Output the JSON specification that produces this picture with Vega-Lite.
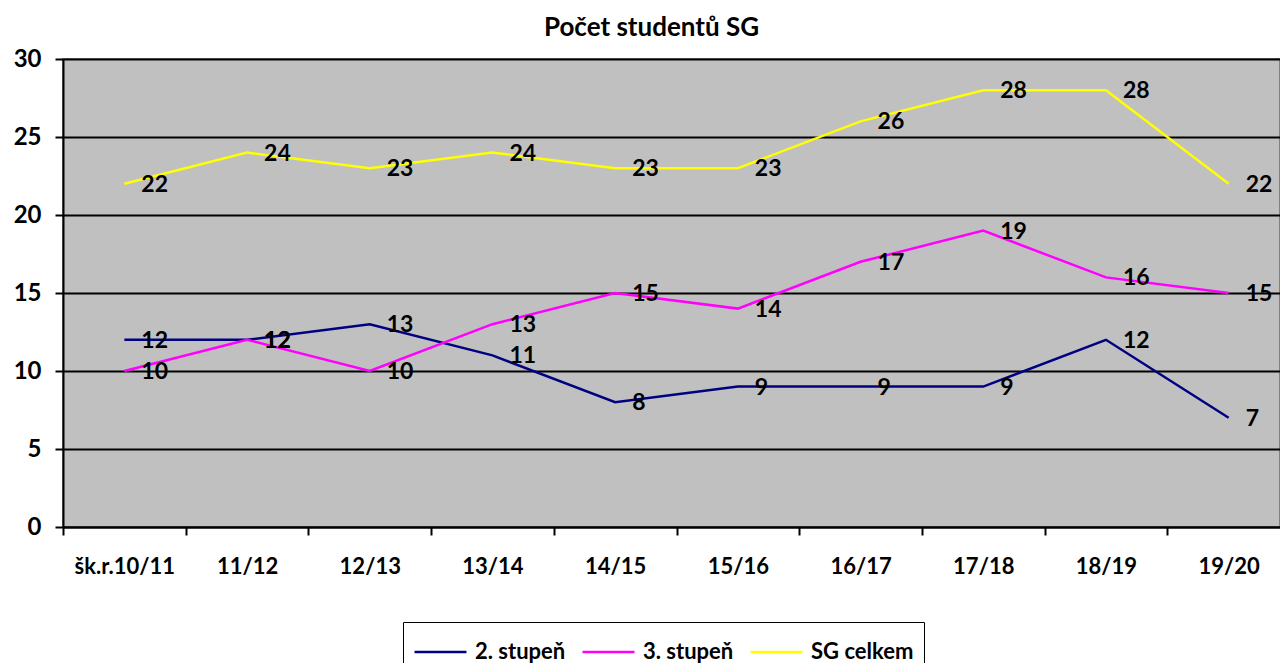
{
  "$schema": "https://vega.github.io/schema/vega-lite/v6.json",
  "autosize": "none",
  "width": 1217,
  "height": 468,
  "padding": {"left": 63, "top": 59, "right": 0, "bottom": 136},
  "background": "white",
  "config": {
    "font": "Lato",
    "view": {"fill": "#C0C0C0", "stroke": "#808080", "strokeWidth": 2}
  },
  "title": {
    "text": "Počet studentů SG",
    "font": "Lato",
    "fontSize": 26,
    "fontWeight": "bold",
    "color": "black",
    "anchor": "middle",
    "frame": "group",
    "dx": -20,
    "offset": 6
  },
  "data": {
    "values": [
      {"rok": "10/11", "serie": "s2", "pocet": 12},
      {"rok": "11/12", "serie": "s2", "pocet": 12},
      {"rok": "12/13", "serie": "s2", "pocet": 13},
      {"rok": "13/14", "serie": "s2", "pocet": 11},
      {"rok": "14/15", "serie": "s2", "pocet": 8},
      {"rok": "15/16", "serie": "s2", "pocet": 9},
      {"rok": "16/17", "serie": "s2", "pocet": 9},
      {"rok": "17/18", "serie": "s2", "pocet": 9},
      {"rok": "18/19", "serie": "s2", "pocet": 12},
      {"rok": "19/20", "serie": "s2", "pocet": 7},
      {"rok": "10/11", "serie": "s3", "pocet": 10},
      {"rok": "11/12", "serie": "s3", "pocet": 12},
      {"rok": "12/13", "serie": "s3", "pocet": 10},
      {"rok": "13/14", "serie": "s3", "pocet": 13},
      {"rok": "14/15", "serie": "s3", "pocet": 15},
      {"rok": "15/16", "serie": "s3", "pocet": 14},
      {"rok": "16/17", "serie": "s3", "pocet": 17},
      {"rok": "17/18", "serie": "s3", "pocet": 19},
      {"rok": "18/19", "serie": "s3", "pocet": 16},
      {"rok": "19/20", "serie": "s3", "pocet": 15},
      {"rok": "10/11", "serie": "sg", "pocet": 22},
      {"rok": "11/12", "serie": "sg", "pocet": 24},
      {"rok": "12/13", "serie": "sg", "pocet": 23},
      {"rok": "13/14", "serie": "sg", "pocet": 24},
      {"rok": "14/15", "serie": "sg", "pocet": 23},
      {"rok": "15/16", "serie": "sg", "pocet": 23},
      {"rok": "16/17", "serie": "sg", "pocet": 26},
      {"rok": "17/18", "serie": "sg", "pocet": 28},
      {"rok": "18/19", "serie": "sg", "pocet": 28},
      {"rok": "19/20", "serie": "sg", "pocet": 22}
    ]
  },
  "encoding": {
    "x": {
      "field": "rok",
      "type": "nominal",
      "sort": null,
      "scale": {"type": "band", "paddingInner": 0, "paddingOuter": 0, "range": [0, 1227]},
      "axis": {
        "title": null,
        "labelAngle": 0,
        "labelExpr": "datum.value == '10/11' ? 'šk.r.10/11' : datum.value",
        "labelFont": "Lato",
        "labelFontSize": 22,
        "labelFontWeight": "bold",
        "labelColor": "black",
        "labelPadding": 21,
        "tickBand": "extent",
        "tickSize": 8,
        "tickWidth": 2,
        "tickColor": "black",
        "domainColor": "black",
        "domainWidth": 2,
        "grid": false
      }
    },
    "y": {
      "field": "pocet",
      "type": "quantitative",
      "scale": {"domain": [0, 30], "nice": false},
      "axis": {
        "title": null,
        "values": [0, 5, 10, 15, 20, 25, 30],
        "labelFont": "Lato",
        "labelFontSize": 24,
        "labelFontWeight": "bold",
        "labelColor": "black",
        "labelPadding": 14,
        "tickSize": 8,
        "tickWidth": 2,
        "tickColor": "black",
        "domainColor": "black",
        "domainWidth": 2,
        "grid": true,
        "gridColor": "black",
        "gridWidth": 2,
        "gridOpacity": 1
      }
    },
    "color": {
      "field": "serie",
      "type": "nominal",
      "scale": {
        "domain": ["s2", "s3", "sg"],
        "range": ["#000080", "#FF00FF", "#FFFF00"]
      },
      "legend": {
        "title": null,
        "orient": "none",
        "direction": "horizontal",
        "legendX": 340,
        "legendY": 563,
        "labelExpr": "datum.value == 's2' ? '2. stupeň' : datum.value == 's3' ? '3. stupeň' : 'SG celkem'",
        "symbolType": "stroke",
        "symbolSize": 2700,
        "symbolStrokeWidth": 2.5,
        "clipHeight": 40,
        "labelFont": "Lato",
        "labelFontSize": 22,
        "labelFontWeight": "bold",
        "labelColor": "black",
        "labelOffset": 7,
        "columnPadding": 15,
        "strokeColor": "black",
        "fillColor": "white",
        "padding": 10
      }
    }
  },
  "layer": [
    {"mark": {"type": "line", "strokeWidth": 2.5}},
    {
      "mark": {
        "type": "text",
        "align": "left",
        "baseline": "middle",
        "dx": 17,
        "dy": 1,
        "font": "Lato",
        "fontSize": 23,
        "fontWeight": "bold",
        "color": "black"
      },
      "encoding": {
        "text": {"field": "pocet", "type": "quantitative"},
        "color": {"value": "black"}
      }
    }
  ]
}
